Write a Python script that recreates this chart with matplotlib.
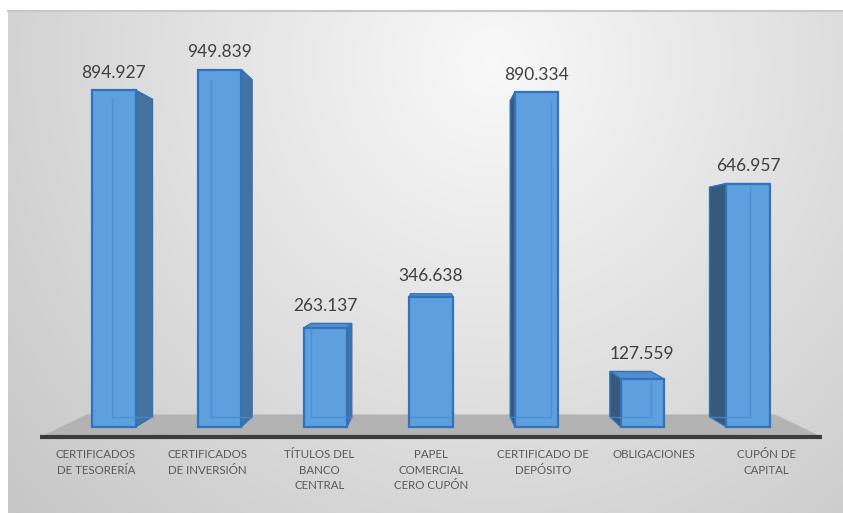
import numpy as np
import matplotlib
matplotlib.use("Agg")
import matplotlib.pyplot as plt
from matplotlib.patches import Polygon

# ---------------- data ----------------
categories = [
    "CERTIFICADOS\nDE TESORERÍA",
    "CERTIFICADOS\nDE INVERSIÓN",
    "TÍTULOS DEL\nBANCO\nCENTRAL",
    "PAPEL\nCOMERCIAL\nCERO CUPÓN",
    "CERTIFICADO DE\nDEPÓSITO",
    "OBLIGACIONES",
    "CUPÓN DE\nCAPITAL",
]
values = [894.927, 949.839, 263.137, 346.638, 890.334, 127.559, 646.957]
value_labels = ["894.927", "949.839", "263.137", "346.638", "890.334", "127.559", "646.957"]

# ---------------- style / perspective parameters ----------------
W, Hpx = 843, 513
VX = 3.0        # vanishing point x (category units)
HZ = 500.0      # horizon (value units)
T1, T2, TF = 0.054, 0.108, 0.12   # depth of bar front, bar back, floor back
BW = 0.41       # bar width (category units)

def proj(x, y, t):
    return (x + (VX - x) * t, y + (HZ - y) * t)

plt.rcParams['font.family'] = ['Lato', 'DejaVu Sans']

fig = plt.figure(figsize=(W / 100, Hpx / 100), dpi=100)
fig.patch.set_facecolor('white')

# background gradient panel
bg = fig.add_axes([0, 0, 1, 1])
bg.set_xlim(0, W)
bg.set_ylim(Hpx, 0)
bg.axis('off')
gx, gy = np.meshgrid(np.linspace(0, 1, 300), np.linspace(0, 1, 200))
d = np.sqrt(((gx - 0.58) / 0.75) ** 2 + ((gy - 0.1) / 1.3) ** 2)
shade = 0.975 - 0.19 * np.clip(d, 0, 1.2)
img = np.dstack([shade, shade, shade])
bg.imshow(img, extent=(8, W, Hpx, 11), aspect='auto', interpolation='bilinear', zorder=0)
bg.plot([8, W], [11, 11], color='#c8c8c8', lw=1.5, zorder=1)

# main axes
ax = fig.add_axes([40 / W, (Hpx - 437) / Hpx, (822 - 40) / W, (437 - 15) / Hpx])
ax.set_xlim(-0.5, 6.5)
ax.set_ylim(0, (437 - 15) / 0.376)
ax.axis('off')
ax.patch.set_alpha(0)

# floor
fl = [proj(-0.5, 0, 0), proj(6.5, 0, 0), proj(6.5, 0, TF), proj(-0.5, 0, TF)]
ax.add_patch(Polygon(fl, closed=True, facecolor='#b3b3b3', edgecolor='none', zorder=1))
ax.plot([-0.5, 6.5], [0, 0], color='#3c3c3c', lw=3, solid_capstyle='butt', zorder=2, clip_on=False)

front_col = '#5E9FDD'
edge_col = '#3272BA'
for i, (v, lab) in enumerate(zip(values, value_labels)):
    h = v / (1 - T1)
    x0, x1 = i - BW / 2, i + BW / 2
    # top face (drawn first; hidden if behind front)
    top = [proj(x0, h, T1), proj(x1, h, T1), proj(x1, h, T2), proj(x0, h, T2)]
    ax.add_patch(Polygon(top, closed=True, facecolor='#4F8DCF', edgecolor=edge_col, lw=1.0, zorder=3))
    # side face
    if i < VX:
        side = [proj(x1, 0, T1), proj(x1, 0, T2), proj(x1, h, T2), proj(x1, h, T1)]
        ax.add_patch(Polygon(side, closed=True, facecolor='#45729E', edgecolor=edge_col, lw=1.0, zorder=3))
        hx = x0
    elif i > VX:
        side = [proj(x0, 0, T1), proj(x0, 0, T2), proj(x0, h, T2), proj(x0, h, T1)]
        ax.add_patch(Polygon(side, closed=True, facecolor='#36597C', edgecolor=edge_col, lw=1.0, zorder=3))
        hx = x1
    else:
        hx = None
    # front face
    front = [proj(x0, 0, T1), proj(x1, 0, T1), proj(x1, h, T1), proj(x0, h, T1)]
    ax.add_patch(Polygon(front, closed=True, facecolor=front_col, edgecolor=edge_col, lw=1.6, zorder=4))
    # hidden back edges seen through
    if hx is not None:
        bx, by0 = proj(hx, 0, T2)
        _, by1 = proj(hx, h, T2)
        ax.plot([bx, bx], [by0, by1], color='#4A8AD0', lw=1.0, alpha=0.8, zorder=5)
    bl = proj(x0, 0, T2)
    br = proj(x1, 0, T2)
    ax.plot([bl[0], br[0]], [bl[1], br[1]], color='#4A8AD0', lw=1.0, alpha=0.8, zorder=5)
    # value label
    fx, fy = proj(i, h, T1)
    ty = max(fy, proj(i, h, T2)[1])
    ax.annotate(lab, (fx, ty), xytext=(0, 9), textcoords='offset points',
                ha='center', va='baseline', fontsize=12.5, color='#404040', zorder=6)

# category labels
for i, c in enumerate(categories):
    ax.annotate(c, (i, 0), xytext=(0, -9), textcoords='offset points',
                ha='center', va='top', fontsize=8.3, color='#595959',
                linespacing=1.45, annotation_clip=False)

fig.savefig('out.png', dpi=100)
